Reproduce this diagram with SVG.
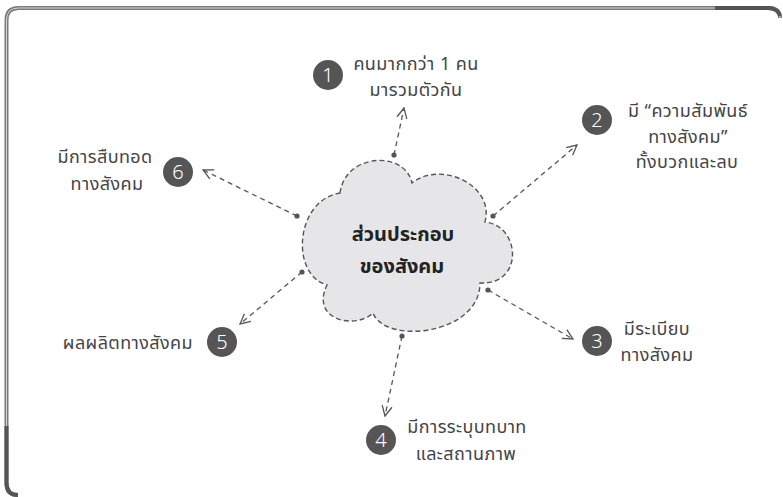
<svg xmlns="http://www.w3.org/2000/svg" width="783" height="497" viewBox="0 0 783 497">
<defs>
<style>
.lbl{font-family:"Noto Sans Thai","Noto Sans","DejaVu Sans",sans-serif;font-size:18px;letter-spacing:0.4px;fill:#444;}
.num{font-family:"Noto Sans","Liberation Sans",sans-serif;font-size:20px;fill:#fff;text-anchor:middle;font-weight:300;}
.badge{fill:#555;}
.conn{stroke:#555;stroke-width:1.3;stroke-dasharray:5 4;fill:none;}
.title{font-family:"Noto Sans Thai","Noto Sans","DejaVu Sans",sans-serif;font-size:20px;font-weight:bold;fill:#222;text-anchor:middle;}
</style>
<marker id="arr" viewBox="0 0 12 12" refX="11" refY="6" markerWidth="12" markerHeight="12" markerUnits="userSpaceOnUse" orient="auto">
<path d="M1,1 L11,6 L1,11" fill="none" stroke="#555" stroke-width="1.3"/>
</marker>
<marker id="dot" viewBox="0 0 6 6" refX="3" refY="3" markerWidth="6" markerHeight="6" markerUnits="userSpaceOnUse">
<circle cx="3" cy="3" r="2.6" fill="#555"/>
</marker>
</defs>
<g id="frame">
<path d="M18,495 Q6.5,495 6.5,483 L6.5,20 Q6.5,8 18.5,8 L768,8 Q780,8 780,18" fill="none" stroke="#7a7a7a" stroke-width="4"/>
<path d="M18,495 Q6.5,495 6.5,483 L6.5,20 Q6.5,8 18.5,8 L768,8 Q780,8 780,18" fill="none" stroke="#d6d6d6" stroke-width="1"/>
<path d="M715,8 L768,8 Q778,8 780,16" fill="none" stroke="#555" stroke-width="4"/>
<path d="M6.5,426 L6.5,483 Q6.5,495 18,495" fill="none" stroke="#555" stroke-width="4"/>
</g>
<g id="connectors">
<line class="conn" x1="394" y1="155" x2="404" y2="108" marker-start="url(#dot)" marker-end="url(#arr)"/>
<line class="conn" x1="493" y1="216" x2="577" y2="145" marker-start="url(#dot)" marker-end="url(#arr)"/>
<line class="conn" x1="488" y1="290" x2="573" y2="339" marker-start="url(#dot)" marker-end="url(#arr)"/>
<line class="conn" x1="402" y1="336" x2="385" y2="416" marker-start="url(#dot)" marker-end="url(#arr)"/>
<line class="conn" x1="302" y1="272" x2="240" y2="324" marker-start="url(#dot)" marker-end="url(#arr)"/>
<line class="conn" x1="297" y1="216" x2="203" y2="170" marker-start="url(#dot)" marker-end="url(#arr)"/>
</g>
<g id="center">
<path d="M340,193 C345,153 405,150 412,183 C440,160 495,185 485,222 C520,225 525,285 480,283 C480,335 385,345 373,313 C355,330 310,320 327,285 C290,275 295,200 340,193 Z" fill="#e6e6e8" stroke="#555" stroke-width="1.4" stroke-dasharray="5 3"/>
<text class="title" x="403" y="241">ส่วนประกอบ</text>
<text class="title" x="402" y="273">ของสังคม</text>
</g>
<g id="node1">
<circle class="badge" cx="328" cy="75" r="15"/>
<text class="num" x="328" y="82">1</text>
<text class="lbl" x="416" y="70" text-anchor="middle">คนมากกว่า 1 คน</text>
<text class="lbl" x="416" y="96" text-anchor="middle">มารวมตัวกัน</text>
</g>
<g id="node2">
<circle class="badge" cx="597" cy="120" r="15"/>
<text class="num" x="597" y="127">2</text>
<text class="lbl" x="688" y="117" text-anchor="middle">มี “ความสัมพันธ์</text>
<text class="lbl" x="688" y="143" text-anchor="middle">ทางสังคม”</text>
<text class="lbl" x="687" y="168" text-anchor="middle">ทั้งบวกและลบ</text>
</g>
<g id="node3">
<circle class="badge" cx="597" cy="341" r="15"/>
<text class="num" x="597" y="348">3</text>
<text class="lbl" x="657" y="335" text-anchor="middle">มีระเบียบ</text>
<text class="lbl" x="657" y="361" text-anchor="middle">ทางสังคม</text>
</g>
<g id="node4">
<circle class="badge" cx="381" cy="440" r="15"/>
<text class="num" x="381" y="447">4</text>
<text class="lbl" x="467" y="433" text-anchor="middle">มีการระบุบทบาท</text>
<text class="lbl" x="466" y="460" text-anchor="middle">และสถานภาพ</text>
</g>
<g id="node5">
<circle class="badge" cx="222" cy="342" r="15"/>
<text class="num" x="222" y="349">5</text>
<text class="lbl" x="193" y="349" text-anchor="end">ผลผลิตทางสังคม</text>
</g>
<g id="node6">
<circle class="badge" cx="178" cy="172" r="15"/>
<text class="num" x="178" y="179">6</text>
<text class="lbl" x="105" y="163" text-anchor="middle">มีการสืบทอด</text>
<text class="lbl" x="107" y="190" text-anchor="middle">ทางสังคม</text>
</g>
</svg>
